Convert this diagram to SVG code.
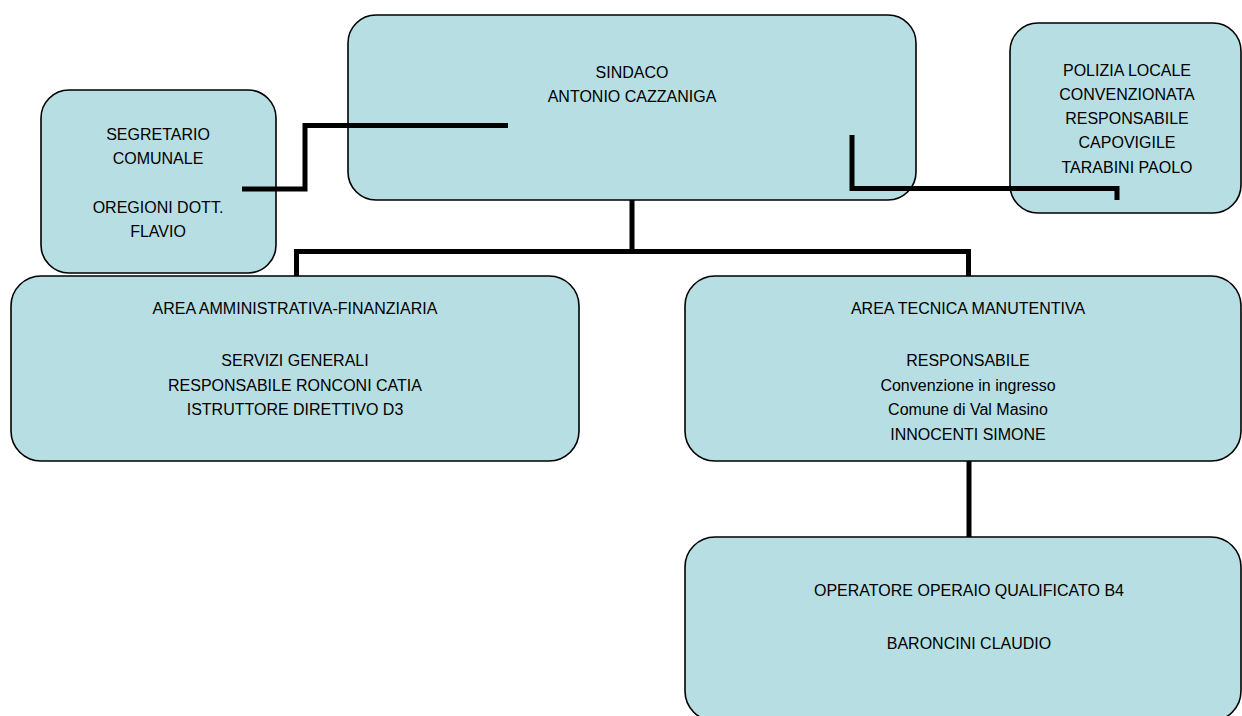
<svg xmlns="http://www.w3.org/2000/svg" width="1242" height="716" viewBox="0 0 1242 716">
<style>
.box{fill:#B7DEE3;stroke:#000;stroke-width:1.6}
.t{font-family:"Liberation Sans",Arial,sans-serif;font-size:16px;fill:#000;text-anchor:middle}
.c{fill:none;stroke:#000;stroke-width:5;stroke-linecap:butt;stroke-linejoin:miter}
</style>
<rect x="0" y="0" width="1242" height="716" fill="#fff"/>
<g id="sindaco">
<rect class="box" x="348" y="15" width="568" height="185" rx="28" ry="28"/>
<text class="t" x="632" y="78">SINDACO</text>
<text class="t" x="632" y="102">ANTONIO CAZZANIGA</text>
</g>
<g id="segretario">
<rect class="box" x="41" y="90" width="235" height="183" rx="28" ry="28"/>
<text class="t" x="158" y="140">SEGRETARIO</text>
<text class="t" x="158" y="164">COMUNALE</text>
<text class="t" x="158" y="213">OREGIONI DOTT.</text>
<text class="t" x="158" y="237">FLAVIO</text>
</g>
<g id="polizia">
<rect class="box" x="1010" y="23" width="231" height="190" rx="28" ry="28"/>
<text class="t" x="1127" y="76">POLIZIA LOCALE</text>
<text class="t" x="1127" y="100">CONVENZIONATA</text>
<text class="t" x="1127" y="124">RESPONSABILE</text>
<text class="t" x="1127" y="148">CAPOVIGILE</text>
<text class="t" x="1127" y="173">TARABINI PAOLO</text>
</g>
<g id="area-amministrativa">
<rect class="box" x="11" y="276" width="568" height="185" rx="30" ry="30"/>
<text class="t" x="295" y="314">AREA AMMINISTRATIVA-FINANZIARIA</text>
<text class="t" x="295" y="366">SERVIZI GENERALI</text>
<text class="t" x="295" y="391">RESPONSABILE RONCONI CATIA</text>
<text class="t" x="295" y="415">ISTRUTTORE DIRETTIVO D3</text>
</g>
<g id="area-tecnica">
<rect class="box" x="685" y="276" width="556" height="185" rx="30" ry="30"/>
<text class="t" x="968" y="314">AREA TECNICA MANUTENTIVA</text>
<text class="t" x="968" y="366">RESPONSABILE</text>
<text class="t" x="968" y="391">Convenzione in ingresso</text>
<text class="t" x="968" y="415">Comune di Val Masino</text>
<text class="t" x="968" y="440">INNOCENTI SIMONE</text>
</g>
<g id="operatore">
<rect class="box" x="685" y="537" width="556" height="184" rx="30" ry="30"/>
<text class="t" x="969" y="596">OPERATORE OPERAIO QUALIFICATO B4</text>
<text class="t" x="969" y="649">BARONCINI CLAUDIO</text>
</g>
<g id="connectors">
<polyline class="c" points="242,189 305,189 305,125.5 508,125.5"/>
<polyline class="c" points="852,135 852,188.5 1117,188.5 1117,200"/>
<polyline class="c" points="632,200 632,251.5"/>
<polyline class="c" points="296.5,276 296.5,251.5 968.5,251.5 968.5,276"/>
<polyline class="c" points="969,461 969,537"/>
</g>
</svg>
